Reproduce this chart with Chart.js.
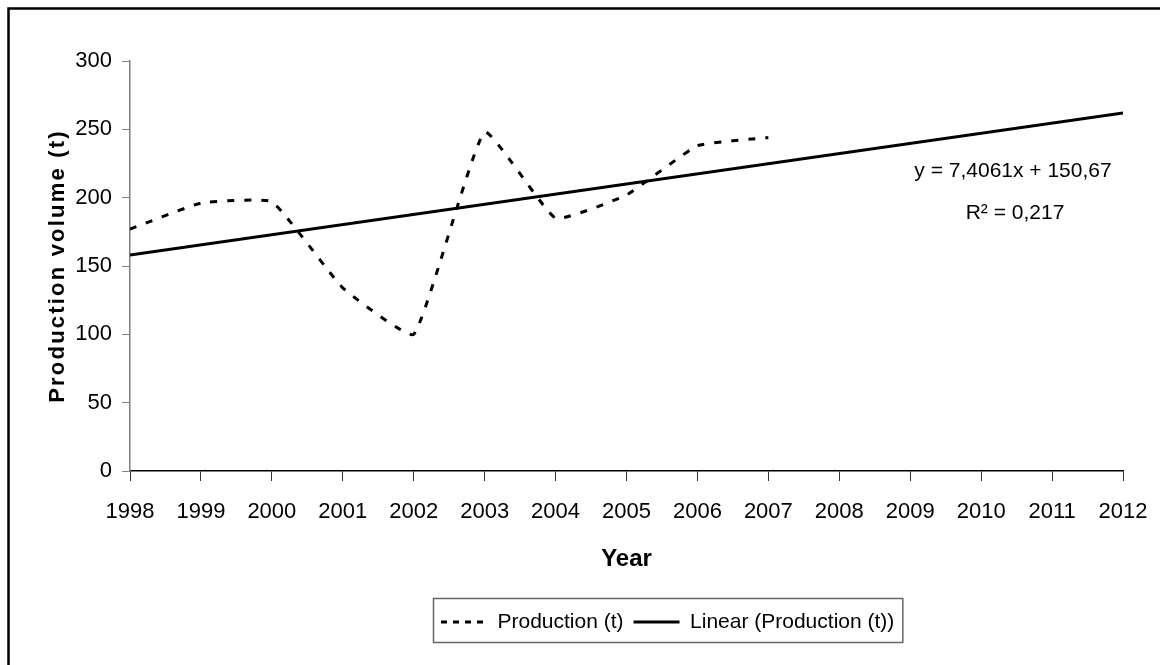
<!DOCTYPE html>
<html>
<head>
<meta charset="utf-8">
<title>Production volume</title>
<script src="https://cdn.jsdelivr.net/npm/chart.js@4"></script>
<style>
    html, body { margin: 0; padding: 0; background: #fff; }
    #wrap { width: 1160px; height: 665px; }
</style>
</head>
<body>
<div id="wrap"><canvas id="lineChart" width="1160" height="665"></canvas></div>
<script>
// Values
const years = [1998, 1999, 2000, 2001, 2002, 2003, 2004, 2005, 2006, 2007];
const production = [177, 196, 197, 134, 100, 248, 185, 202, 238, 244];
const trendYears = [1998, 2012];
const trendValues = [158, 262];
const xRange = [1998, 2012];
const yRange = [0, 300];
const yStep = 50;
const trendText = ['y = 7,4061x + 150,67', 'R\u00b2 = 0,217'];

const NARROW = "'Liberation Sans Narrow', 'Arial Narrow', 'Liberation Sans', Arial, sans-serif";
const SANS = "'Liberation Sans', Arial, sans-serif";

function toPoints(xs, ys) {
    return xs.map((x, i) => ({ x: x, y: ys[i] }));
}

// frame, legend box, rotated axis title and trend equation
const extras = {
    id: 'extras',
    afterUpdate(chart) {
        const legend = chart.legend;
        if (!legend || !legend.legendHitBoxes.length) return;
        const d = 441 - legend.legendHitBoxes[0].left;
        legend.left += d;
        legend.right += d;
        legend.legendHitBoxes.forEach(hb => { hb.left += d; });
    },
    afterDraw(chart) {
        const ctx = chart.ctx;
        const area = chart.chartArea;
        ctx.save();

        // outer frame (only left and top show)
        ctx.strokeStyle = '#000';
        ctx.lineWidth = 2.5;
        ctx.beginPath();
        ctx.moveTo(8.5, 665);
        ctx.lineTo(8.5, 8.5);
        ctx.lineTo(1160, 8.5);
        ctx.stroke();

        // legend box
        const hbs = chart.legend.legendHitBoxes;
        if (hbs.length) {
            const first = hbs[0];
            const last = hbs[hbs.length - 1];
            ctx.strokeStyle = '#666';
            ctx.lineWidth = 1.5;
            ctx.strokeRect(first.left - 7.5, 598.5, last.left + last.width - first.left + 16, 44);
        }

        // y axis title, letter spaced
        ctx.fillStyle = '#000';
        ctx.font = 'bold 22px ' + SANS;
        ctx.letterSpacing = '2.2px';
        ctx.textAlign = 'center';
        ctx.textBaseline = 'middle';
        ctx.translate(58, (area.top + area.bottom) / 2);
        ctx.rotate(-Math.PI / 2);
        ctx.fillText('Production volume (t)', 0, 0);
        ctx.restore();

        // trend equation
        ctx.save();
        ctx.fillStyle = '#000';
        ctx.font = '21px ' + NARROW;
        ctx.textAlign = 'center';
        ctx.textBaseline = 'middle';
        ctx.fillText(trendText[0], area.right - 110, area.top + 110);
        ctx.fillText(trendText[1], area.right - 108, area.top + 152);
        ctx.restore();
    }
};

new Chart(document.getElementById('lineChart'), {
    type: 'line',
    data: {
        datasets: [{
            label: 'Production (t)',
            data: toPoints(years, production),
            borderColor: '#000',
            backgroundColor: '#000',
            borderWidth: 3,
            borderDash: [7, 10],
            tension: 0.12,
            pointRadius: 0,
            fill: false
        }, {
            label: 'Linear (Production (t))',
            data: toPoints(trendYears, trendValues),
            borderColor: '#000',
            backgroundColor: '#000',
            borderWidth: 3,
            tension: 0,
            pointRadius: 0,
            fill: false
        }]
    },
    options: {
        responsive: false,
        animation: false,
        layout: {
            padding: { top: 61, right: 37, bottom: 22.5, left: 0 }
        },
        plugins: {
            legend: {
                position: 'bottom',
                labels: {
                    color: '#000',
                    font: { family: NARROW, size: 21 },
                    padding: 10,
                    usePointStyle: true,
                    pointStyle: 'line',
                    pointStyleWidth: 46,
                    generateLabels: function(chart) {
                        const items = Chart.defaults.plugins.legend.labels.generateLabels(chart);
                        if (items[0]) items[0].lineDash = [6, 6];
                        return items;
                    }
                }
            },
            tooltip: { enabled: false }
        },
        scales: {
            x: {
                type: 'linear',
                min: xRange[0],
                max: xRange[1],
                grid: { drawOnChartArea: false, tickLength: 10, color: '#333', lineWidth: 1 },
                border: { color: '#000', width: 1.5 },
                ticks: {
                    stepSize: 1,
                    color: '#000',
                    padding: 18,
                    font: { family: NARROW, size: 22 },
                    callback: function(value) { return String(value); }
                },
                title: {
                    display: true,
                    text: 'Year',
                    color: '#000',
                    font: { family: NARROW, size: 24, weight: 'bold' },
                    padding: { top: 0, bottom: 27.5 }
                },
                afterFit: function(scale) {
                    scale.height = 130.5;
                    scale.paddingLeft = 0;
                    scale.paddingRight = 0;
                }
            },
            y: {
                min: yRange[0],
                max: yRange[1],
                grid: { drawOnChartArea: false, tickLength: 8, color: '#808080', lineWidth: 1 },
                border: { color: '#808080', width: 1.5 },
                ticks: {
                    stepSize: yStep,
                    color: '#000',
                    padding: 10,
                    font: { family: NARROW, size: 22 }
                },
                afterFit: function(scale) { scale.width = 130; }
            }
        }
    },
    plugins: [extras]
});
</script>
</body>
</html>
